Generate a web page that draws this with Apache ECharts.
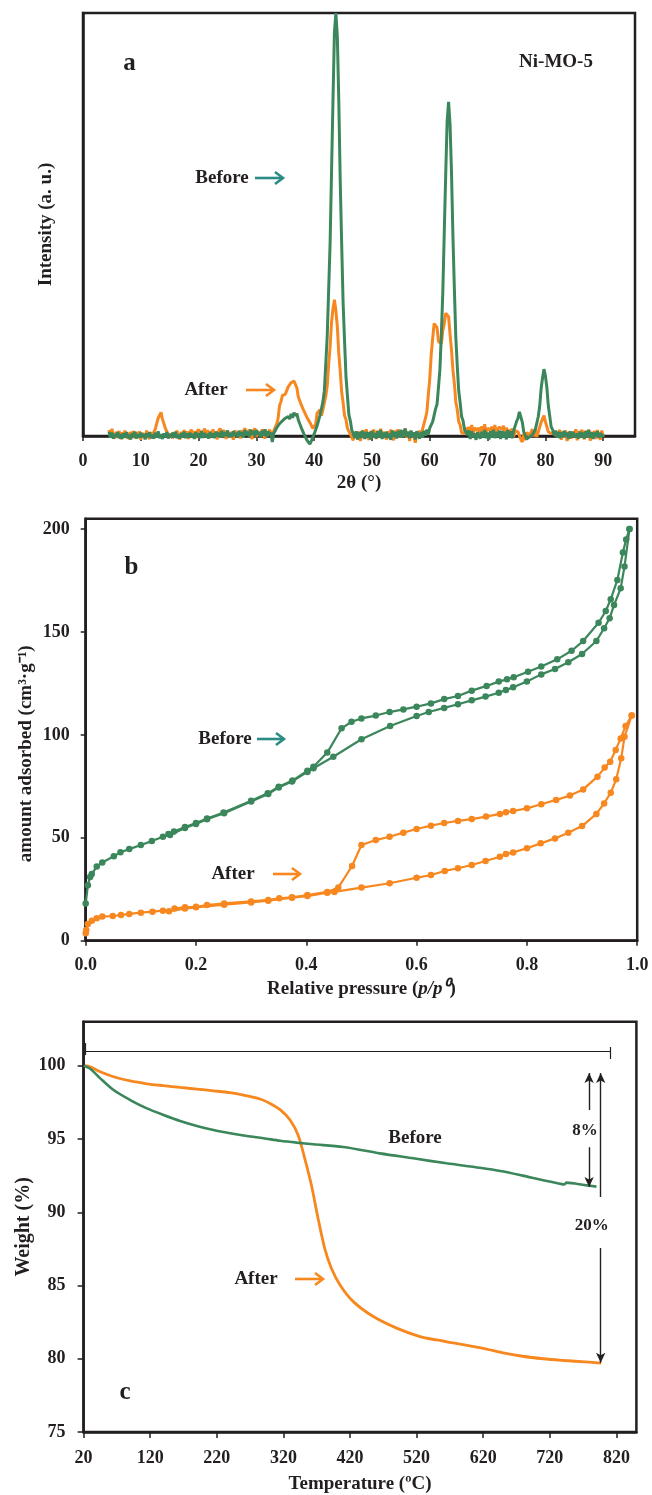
<!DOCTYPE html>
<html>
<head>
<meta charset="utf-8">
<title>Ni-MO-5 before / after</title>
<script src="https://cdn.jsdelivr.net/npm/echarts@6/dist/echarts.min.js"></script>
<style>
  html, body { margin: 0; padding: 0; background: #ffffff; }
  #chart { width: 652px; height: 1495px; }
</style>
</head>
<body>
<div id="chart"></div>
<script>
// ---------- (a) XRD patterns, uniform step scan ----------
const XRD_START = 4.5;   // 2θ of first sample
const XRD_STEP = 0.25;   // 2θ step
const xrdTicks = [0, 10, 20, 30, 40, 50, 60, 70, 80, 90];

const xrdBefore = [
  10, -4, 8, -6, 5, -2, 9, -5,
  4, -7, 6, -3, 9, -5, 3, -8,
  7, -2, 10, -6, 4, -4, 8, -3,
  5, -8, 6, -2, 9, -5, 3, -6,
  8, -3, 11, -5, 4, -7, 6, -2,
  9, -6, 5, -3, 8, -4, 10, -5,
  3, -6, 7, -2, 10, -5, 6, -4,
  8, -3, 5, -7, 9, -2, 6, -5,
  11, -4, 7, -3, 5, -6, 9, -2,
  6, -5, 10, -1, 8, -4, 12, -2,
  9, 0, 13, -3, 7, -2, 11, 1,
  8, -3, 12, 0, 9, -4, 14, 2,
  10, -2, 15, 3, 12, -1, 14, 4,
  9, -3, 13, 1, 16, -2, 11, 3,
  8, -14, 7, 12, 19, 20, 29, 27,
  36, 33, 42, 38, 46, 40, 52, 43,
  55, 48, 53, 38, 35, 20, 17, 4,
  2, -10, -11, -19, -12, -8, 5, 8,
  24, 28, 49, 48, 80, 106, 170, 236,
  345, 455, 625, 795, 955, 1000, 945, 795,
  605, 455, 315, 225, 140, 95, 50, 36,
  14, 14, -4, 11, -8, 9, -5, 12,
  6, -7, 10, -4, 9, -8, 12, -2,
  7, -6, 11, -3, 14, -7, 8, -4,
  10, -5, 6, -9, 13, -2, 9, -6,
  12, -3, 15, -4, 8, 17, -2, 10,
  -5, 13, -2, 9, -8, 11, 2, -6,
  9, -4, 12, 1, 15, 4, 19, 18,
  34, 36, 64, 75, 115, 158, 241, 340,
  481, 617, 745, 790, 737, 625, 473, 348,
  233, 166, 107, 79, 46, 36, 16, 15,
  2, 13, -7, 11, -2, 6, -9, 9,
  12, -6, 10, -3, 14, -5, 8, -8,
  11, -4, 15, -5, 9, -2, 13, -7,
  12, -4, 10, -8, 14, -3, 11, -5,
  12, 11, 34, 42, 57, 45, 33, 10,
  8, -7, -4, -2, 2, 3, 7, 15,
  19, 45, 69, 111, 137, 158, 142, 115,
  72, 47, 21, 15, 2, 13, -4, 10,
  -5, 9, -3, 12, -1, 8, -7, 11,
  -4, 9, 13, -3, 6, -6, 10, -2,
  8, -6, 11, -2, 14, -4, 9, -7,
  8, -2, 11, -4, 7, -3, 5
];

const xrdAfter = [
  14, -3, 17, 1, -6, 10, -4, 12,
  -7, 9, -2, 13, -5, 8, -8, 10,
  -1, 12, -6, 9, -3, 11, -9, 7,
  10, -4, 13, -2, -7, 9, -1, 9,
  16, 20, 42, 44, 56, 40, 36, 18,
  18, 4, 8, 3, -6, 9, -3, 13,
  -1, -8, 10, -2, 14, -4, 11, -7,
  9, 15, -2, 12, -5, 10, 16, -1,
  13, -3, 18, 0, 14, -6, 12, 1,
  16, -1, 11, -8, 13, 18, -2, 14,
  9, -7, 12, 16, -3, 10, -9, 13,
  17, 0, 12, -6, 14, -1, 19, 2,
  -2, 15, 1, -7, 13, 18, -3, 11,
  14, -1, 16, 2, -6, 12, 0, 15,
  9, -2, 12, 11, 28, 41, 72, 81,
  96, 94, 99, 101, 116, 114, 126, 126,
  130, 128, 114, 92, 89, 74, 74, 58,
  59, 44, 46, 32, 32, 18, 23, 28,
  54, 58, 62, 48, 62, 66, 94, 118,
  169, 211, 269, 301, 322, 296, 259, 196,
  154, 104, 79, 48, 39, 18, 18, 4,
  6, -10, 9, 6, -7, 11, -12, 8,
  13, -6, 16, -1, -9, 12, -3, 15,
  8, -7, 13, -2, 17, -5, 10, 6,
  -8, 11, -2, 15, 1, -10, 13, -1,
  16, -3, -7, 12, 0, 18, -4, 11,
  -12, 9, 6, -2, -16, 10, -1, 13,
  0, 16, 18, 42, 58, 99, 136, 194,
  231, 266, 266, 256, 224, 220, 218, 249,
  266, 290, 287, 282, 241, 204, 156, 124,
  81, 62, 34, 26, 8, 9, 6, 20,
  4, 22, 8, 26, 2, 19, 16, 13,
  20, 0, 23, 7, 28, 4, 18, 17,
  14, 22, 2, 26, 9, 8, 21, 21,
  16, 24, 4, 20, -1, 15, 2, 18,
  -2, 13, 10, 10, 8, -8, -14, 6,
  -10, 8, 6, 2, 3, 16, -1, 12,
  -2, 9, 11, 32, 36, 48, 34, 30,
  10, 10, 6, 6, 8, 1, 4, 8,
  14, -9, 10, -3, 13, -12, 9, 7,
  -6, 11, -1, 16, -10, 12, -3, 14,
  9, -8, 13, -2, 15, -11, 10, -1,
  12, -7, 14, 0, -9, 13, -2
];

// ---------- (b) N2 isotherms (p/p0, cm3/g) ----------
const betPressureTicks = ['0.0', '0.2', '0.4', '0.6', '0.8', '1.0'];
const betAmountTicks = [0, 50, 100, 150, 200];

const beforeAdsP = [0, 0.004, 0.008, 0.011, 0.02, 0.03, 0.051, 0.063, 0.079, 0.1, 0.12, 0.14, 0.153, 0.18, 0.2, 0.22, 0.251, 0.3, 0.331, 0.35, 0.374, 0.402, 0.413, 0.449, 0.5, 0.552, 0.6, 0.622, 0.65, 0.675, 0.7, 0.725, 0.749, 0.762, 0.775, 0.8, 0.826, 0.851, 0.875, 0.9, 0.926, 0.94, 0.95, 0.958, 0.97, 0.977, 0.986];
const beforeAdsV = [18.1, 27, 31, 32.4, 36, 38, 41, 43, 44.5, 46.5, 48.4, 50.5, 51.4, 54.8, 56.7, 59, 61.9, 67.6, 71.3, 74.5, 77.3, 82, 83.8, 89.4, 97.9, 104.3, 109.2, 111.1, 113.1, 114.9, 116.8, 118.6, 120.5, 121.8, 123.1, 125.9, 129.4, 132, 135.3, 139.3, 145.6, 151.8, 156.7, 163.1, 171.2, 181.8, 200];
const beforeDesP = [0.986, 0.98, 0.974, 0.964, 0.952, 0.943, 0.93, 0.902, 0.881, 0.855, 0.826, 0.802, 0.776, 0.764, 0.749, 0.727, 0.7, 0.675, 0.65, 0.626, 0.6, 0.576, 0.551, 0.526, 0.5, 0.482, 0.464, 0.438, 0.413, 0.402, 0.375, 0.35, 0.33, 0.3, 0.25, 0.22, 0.2, 0.18, 0.16, 0.15];
const beforeDesV = [200, 195, 188.6, 175.3, 165.9, 160.2, 154.5, 145.6, 140.9, 136.7, 133.2, 130.7, 128, 127, 125.9, 123.8, 121.5, 118.9, 117.4, 115.3, 113.7, 112.4, 111.1, 109.4, 108, 106.4, 103.2, 91.4, 84.5, 82.6, 77.8, 74.8, 71.6, 68.0, 62.3, 59.4, 57.2, 55.2, 53.0, 51.8];

const afterAdsP = [0, 0.001, 0.004, 0.011, 0.02, 0.03, 0.049, 0.064, 0.079, 0.1, 0.121, 0.14, 0.151, 0.18, 0.2, 0.251, 0.3, 0.331, 0.374, 0.402, 0.438, 0.451, 0.5, 0.551, 0.6, 0.626, 0.651, 0.675, 0.7, 0.725, 0.751, 0.762, 0.775, 0.8, 0.825, 0.851, 0.875, 0.9, 0.926, 0.94, 0.952, 0.962, 0.971, 0.977, 0.99];
const afterAdsV = [3.6, 5.2, 8.1, 9.7, 10.9, 11.7, 12, 12.5, 13, 13.6, 14.1, 14.6, 14.3, 15.6, 16.2, 17.5, 18.6, 19.4, 20.9, 21.7, 23.3, 23.7, 25.8, 27.9, 30.6, 31.9, 33.9, 35.2, 36.8, 38.7, 40.8, 42.1, 42.9, 44.9, 47.3, 49.7, 52.5, 55.7, 61.6, 66.7, 71.9, 78.4, 88.6, 99.1, 109.4];
const afterDesP = [0.99, 0.979, 0.97, 0.961, 0.951, 0.941, 0.928, 0.902, 0.878, 0.853, 0.826, 0.8, 0.775, 0.762, 0.751, 0.726, 0.7, 0.675, 0.65, 0.626, 0.6, 0.576, 0.551, 0.526, 0.5, 0.483, 0.458, 0.438, 0.402, 0.374, 0.351, 0.331, 0.3, 0.251, 0.22, 0.2, 0.18, 0.161];
const afterDesV = [109.4, 104.3, 98.3, 92.7, 87, 84.1, 79.7, 73.5, 70.5, 68.4, 66.3, 64.3, 63, 62.4, 61.6, 60.3, 59.1, 58.2, 57.2, 55.9, 54.3, 52.5, 50.5, 48.9, 46.5, 36.3, 25.8, 23.7, 22.2, 21.1, 20.6, 19.8, 19.1, 18.1, 17.3, 16.5, 16.2, 15.7];

// ---------- (c) TGA curves (°C, wt %) ----------
const tgaTempTicks = [20, 120, 220, 320, 420, 520, 620, 720, 820];
const tgaWeightTicks = [75, 80, 85, 90, 95, 100];

const tgaBeforeT = [20, 30, 45, 65, 90, 115, 140, 165, 190, 215, 240, 265, 290, 315, 340, 365, 410, 465, 515, 565, 615, 648, 679, 710, 735, 742, 745, 773, 790];
const tgaBeforeW = [100, 99.8, 99.14, 98.34, 97.66, 97.09, 96.64, 96.23, 95.89, 95.61, 95.39, 95.2, 95.05, 94.88, 94.75, 94.64, 94.45, 94.02, 93.68, 93.34, 93.04, 92.8, 92.5, 92.18, 91.95, 91.9, 92.02, 91.85, 91.75];
const tgaAfterT = [22, 30, 45, 65, 90, 115, 140, 165, 190, 215, 240, 265, 285, 300, 315, 330, 342, 352, 362, 372, 382, 392, 405, 425, 455, 490, 525, 550, 575, 600, 625, 648, 679, 710, 742, 773, 797];
const tgaAfterW = [100, 99.93, 99.59, 99.25, 98.96, 98.77, 98.64, 98.52, 98.41, 98.29, 98.16, 97.95, 97.73, 97.43, 97.0, 96.3, 95.27, 93.68, 91.86, 89.59, 87.54, 86.18, 85.04, 83.9, 82.88, 82.09, 81.51, 81.28, 81.08, 80.88, 80.66, 80.42, 80.17, 80.0, 79.88, 79.78, 79.7];

// ---------- styling ----------
const INK = '#231f20';
const GREEN = '#3b875b';
const ORANGE = '#f7871f';
const TEAL = '#2a8c86';
const SERIF = '"Liberation Serif", "Times New Roman", serif';

const pairs = (xs, ys) => xs.map((x, i) => [x, ys[i]]);
const scan = (vals) => vals.map((v, i) => [XRD_START + i * XRD_STEP, v]);

const axisLineStyle = { show: true, onZero: false, lineStyle: { color: INK, width: 2.5 } };
const tickStyle = { show: true, inside: false, length: 5, lineStyle: { color: INK, width: 1.5 } };
const labelStyle = { fontFamily: SERIF, fontWeight: 'bold', fontSize: 18, color: INK };
const nameStyle = { fontFamily: SERIF, fontWeight: 'bold', fontSize: 19, color: INK };

function textEl(text, x, y, size, color) {
  return {
    type: 'text', silent: true,
    style: { text, x, y, font: 'bold ' + size + 'px ' + SERIF, fill: color || INK, align: 'center', verticalAlign: 'middle' }
  };
}
function arrowEl(x1, x2, y, color) {
  return {
    type: 'group', silent: true,
    children: [
      { type: 'line', shape: { x1, y1: y, x2: x2 - 1, y2: y }, style: { stroke: color, lineWidth: 2.6 } },
      { type: 'polyline', shape: { points: [[x2 - 8, y - 6], [x2, y], [x2 - 8, y + 6]] },
        style: { stroke: color, lineWidth: 2.6, fill: null, lineJoin: 'miter' } }
    ]
  };
}

const chart = echarts.init(document.getElementById('chart'), null, { renderer: 'canvas' });

const option = {
  backgroundColor: '#ffffff',
  animation: false,
  grid: [
    { left: 83, top: 13, width: 552, height: 423, show: true, borderColor: INK, borderWidth: 2.5, backgroundColor: 'transparent' },
    { left: 85.7, top: 518.8, width: 551.5, height: 421.9, show: true, borderColor: INK, borderWidth: 2.5, backgroundColor: 'transparent' },
    { left: 83.6, top: 1021.8, width: 552.8, height: 410.5, show: true, borderColor: INK, borderWidth: 2.5, backgroundColor: 'transparent' }
  ],
  xAxis: [
    {
      gridIndex: 0, type: 'value', min: 0, max: 95.5, interval: 10,
      axisLine: axisLineStyle, axisTick: tickStyle, splitLine: { show: false },
      axisLabel: Object.assign({ margin: 16, showMaxLabel: false,
        formatter: v => (xrdTicks.indexOf(Math.round(v)) >= 0 && Math.abs(v - Math.round(v)) < 1e-6) ? String(Math.round(v)) : '' }, labelStyle),
      name: '2θ (°)', nameLocation: 'middle', nameGap: 38, nameMoveOverlap: false, nameTextStyle: nameStyle
    },
    {
      gridIndex: 1, type: 'value', min: 0, max: 1, interval: 0.2,
      axisLine: axisLineStyle, axisTick: tickStyle, splitLine: { show: false },
      axisLabel: Object.assign({ margin: 16,
        formatter: v => { const s = v.toFixed(1); return betPressureTicks.indexOf(s) >= 0 ? s : ''; } }, labelStyle),
      name: '{n|Relative pressure (}{i|p/p⁰}{n|)}', nameLocation: 'middle', nameGap: 39, nameMoveOverlap: false,
      nameTextStyle: Object.assign({}, nameStyle, {
        rich: {
          n: { fontFamily: SERIF, fontWeight: 'bold', fontSize: 19, color: INK },
          i: { fontFamily: SERIF, fontWeight: 'bold', fontStyle: 'italic', fontSize: 19, color: INK }
        }
      })
    },
    {
      gridIndex: 2, type: 'value', min: 20, max: 850, interval: 100,
      axisLine: axisLineStyle, axisTick: Object.assign({}, tickStyle, { length: 6 }), splitLine: { show: false },
      axisLabel: Object.assign({ margin: 17, showMaxLabel: false,
        formatter: v => tgaTempTicks.indexOf(Math.round(v)) >= 0 ? String(Math.round(v)) : '' }, labelStyle),
      name: 'Temperature (ºC)', nameLocation: 'middle', nameGap: 43, nameMoveOverlap: false, nameTextStyle: nameStyle
    }
  ],
  yAxis: [
    {
      gridIndex: 0, type: 'value', min: 0, max: 1000,
      axisLine: axisLineStyle, axisTick: { show: false }, axisLabel: { show: false }, splitLine: { show: false },
      name: 'Intensity (a. u.)', nameLocation: 'middle', nameRotate: 90, nameGap: 27, nameMoveOverlap: false, nameTextStyle: nameStyle
    },
    {
      gridIndex: 1, type: 'value', min: 0, max: 205, interval: 50,
      axisLine: axisLineStyle, axisTick: tickStyle, splitLine: { show: false },
      axisLabel: Object.assign({ margin: 16, showMaxLabel: false,
        formatter: v => betAmountTicks.indexOf(Math.round(v)) >= 0 ? String(Math.round(v)) : '' }, labelStyle),
      name: 'amount adsorbed (cm³·g⁻¹)', nameLocation: 'middle', nameRotate: 90, nameGap: 50, nameMoveOverlap: false,
      nameTextStyle: Object.assign({}, nameStyle, { padding: [0, 48, 0, 0] })
    },
    {
      gridIndex: 2, type: 'value', min: 75, max: 103, interval: 5,
      axisLine: axisLineStyle, axisTick: Object.assign({}, tickStyle, { length: 6 }), splitLine: { show: false },
      axisLabel: Object.assign({ margin: 18, showMaxLabel: false,
        formatter: v => tgaWeightTicks.indexOf(Math.round(v)) >= 0 ? String(Math.round(v)) : '' }, labelStyle),
      name: 'Weight (%)', nameLocation: 'middle', nameRotate: 90, nameGap: 50, nameMoveOverlap: false,
      nameTextStyle: Object.assign({}, nameStyle, { fontSize: 20 })
    }
  ],
  series: [
    // (a) XRD
    { name: 'After', type: 'line', xAxisIndex: 0, yAxisIndex: 0, data: scan(xrdAfter),
      showSymbol: false, clip: false, silent: true, lineStyle: { color: ORANGE, width: 3 } },
    { name: 'Before', type: 'line', xAxisIndex: 0, yAxisIndex: 0, data: scan(xrdBefore),
      showSymbol: false, clip: false, silent: true, lineStyle: { color: GREEN, width: 3 } },

    // (b) isotherms
    { name: 'After ads', type: 'line', xAxisIndex: 1, yAxisIndex: 1, data: pairs(afterAdsP, afterAdsV),
      symbol: 'circle', symbolSize: 6.5, silent: true, clip: false,
      lineStyle: { color: ORANGE, width: 2.2 }, itemStyle: { color: ORANGE } },
    { name: 'After des', type: 'line', xAxisIndex: 1, yAxisIndex: 1, data: pairs(afterDesP, afterDesV),
      symbol: 'circle', symbolSize: 6.5, silent: true, clip: false,
      lineStyle: { color: ORANGE, width: 2.2 }, itemStyle: { color: ORANGE } },
    { name: 'Before ads', type: 'line', xAxisIndex: 1, yAxisIndex: 1, data: pairs(beforeAdsP, beforeAdsV),
      symbol: 'circle', symbolSize: 6.5, silent: true, clip: false,
      lineStyle: { color: GREEN, width: 2.2 }, itemStyle: { color: GREEN } },
    { name: 'Before des', type: 'line', xAxisIndex: 1, yAxisIndex: 1, data: pairs(beforeDesP, beforeDesV),
      symbol: 'circle', symbolSize: 6.5, silent: true, clip: false,
      lineStyle: { color: GREEN, width: 2.2 }, itemStyle: { color: GREEN } },

    // (c) TGA
    { name: 'After TGA', type: 'line', xAxisIndex: 2, yAxisIndex: 2, data: pairs(tgaAfterT, tgaAfterW),
      showSymbol: false, smooth: 0.3, silent: true,
      lineStyle: { color: ORANGE, width: 2.8 },
      // weight-loss arrows, both measured from the starting plateau
      markLine: {
        silent: true, symbol: ['none', 'arrow'], symbolSize: [7, 10],
        label: { show: false },
        lineStyle: { color: INK, width: 1.4, type: 'solid' },
        emphasis: { disabled: true },
        data: [
          [{ coord: [779, 96.98] }, { coord: [779, 99.5] }],
          [{ coord: [779, 94.44] }, { coord: [779, 91.72] }],
          [{ coord: [796.4, 91.04] }, { coord: [796.4, 99.5] }],
          [{ coord: [796.4, 87.56] }, { coord: [796.4, 79.72] }]
        ]
      },
      markPoint: {
        silent: true, symbol: 'circle', symbolSize: 0,
        label: { show: true, position: 'inside', fontFamily: SERIF, fontWeight: 'bold', fontSize: 17, color: INK },
        data: [
          { coord: [773, 95.6], label: { formatter: '8%' } },
          { coord: [783, 89.1], label: { formatter: '20%' } }
        ]
      }
    },
    { name: 'Before TGA', type: 'line', xAxisIndex: 2, yAxisIndex: 2, data: pairs(tgaBeforeT, tgaBeforeW),
      showSymbol: false, smooth: 0.3, silent: true,
      lineStyle: { color: GREEN, width: 2.6 },
      // reference bracket at the top of the TGA panel
      markLine: {
        silent: true, symbol: ['none', 'none'],
        label: { show: false },
        lineStyle: { color: INK, width: 1.2, type: 'solid' },
        emphasis: { disabled: true },
        data: [
          [{ coord: [22, 101.02] }, { coord: [810.4, 101.02] }],
          [{ coord: [22, 100.73] }, { coord: [22, 101.55] }],
          [{ coord: [810.4, 100.46] }, { coord: [810.4, 101.28] }]
        ]
      }
    }
  ],
  graphic: [
    // panel (a)
    textEl('a', 129.5, 64, 25),
    textEl('Ni-MO-5', 556, 62, 19),
    textEl('Before', 222, 178, 19),
    arrowEl(255, 283, 178, TEAL),
    textEl('After', 206, 390, 19),
    arrowEl(246, 274, 390, ORANGE),
    // panel (b)
    textEl('b', 131.5, 568, 25),
    textEl('Before', 225, 739, 19),
    arrowEl(257, 284, 739, TEAL),
    textEl('After', 233, 874, 19),
    arrowEl(273, 300, 874, ORANGE),
    // panel (c)
    textEl('Before', 415, 1138, 19),
    textEl('After', 256, 1279, 19),
    arrowEl(295, 323, 1279, ORANGE),
    textEl('c', 125, 1393, 25)
  ]
};

chart.setOption(option);
</script>
</body>
</html>
